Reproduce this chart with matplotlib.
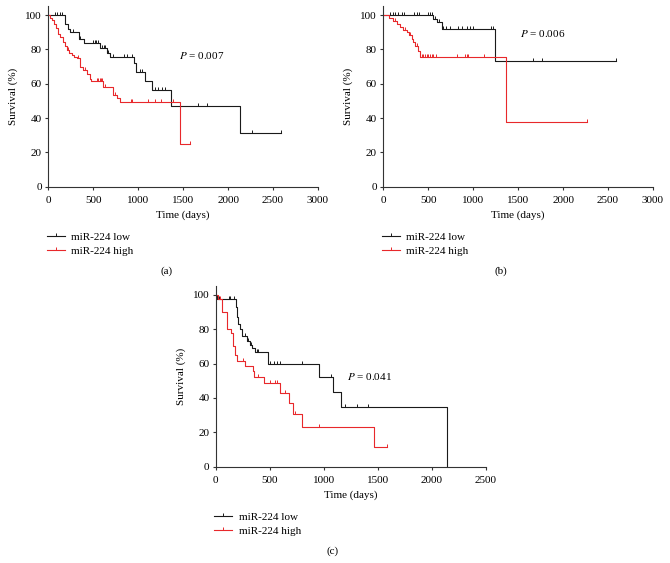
import numpy as np
import matplotlib
matplotlib.use("Agg")
import matplotlib.pyplot as plt

plt.rcParams['font.family'] = ['Liberation Serif', 'DejaVu Serif']
plt.rcParams['font.size'] = 8

# (a) overall
a_low_t = [185, 215, 240, 340, 400, 575, 650, 685, 955, 975, 1080, 1150, 1370, 2130]
a_low_s = [95, 92, 90, 86, 83.5, 81, 78, 75.5, 72, 66.6, 61.5, 56.5, 46.8, 31]
a_low_c = [75, 100, 130, 150, 277, 352, 500, 515, 530, 550, 600, 615, 630, 665, 720, 840, 875, 930,
           1020, 1045, 1185, 1220, 1265, 1300, 1660, 1767, 2270, 2590]
a_high_t = [18, 40, 63, 85, 110, 135, 167, 190, 204, 230, 260, 290, 315, 350, 390, 430, 463, 480,
            610, 720, 760, 800, 1463]
a_high_s = [98.5, 97, 95, 92.5, 89, 87, 84.5, 82, 79.6, 78, 76.7, 75.5, 74.8, 70, 68, 65.5, 63, 61.7,
            57.9, 53.4, 51.5, 49.5, 24.9]
a_high_c = [222, 330, 410, 430, 540, 555, 570, 585, 600, 630, 740, 920, 935, 1110, 1185, 1255, 1390, 1575]

# (b)
b_low_t = [555, 593, 648, 1248]
b_low_s = [97.5, 96, 91.6, 73.2]
b_low_c = [74, 104, 130, 167, 204, 230, 344, 370, 400, 493, 518, 537, 570, 600, 620, 667, 700, 740,
           833, 870, 926, 963, 1000, 1196, 1222, 1660, 1767, 2593]
b_high_t = [63, 111, 148, 185, 222, 260, 290, 315, 333, 352, 381, 407, 1370]
b_high_s = [98, 96.5, 95, 93, 91.5, 90, 88.5, 86, 84, 82, 79, 75.8, 37.5]
b_high_c = [130, 240, 300, 370, 426, 444, 463, 481, 500, 518, 537, 555, 590, 815, 907, 926, 944, 1122, 2270]

# (c)
c_low_t = [9, 190, 200, 210, 225, 240, 287, 318, 333, 364, 487, 955, 1082, 1156, 2136]
c_low_s = [97.5, 93, 87, 83, 80, 76, 73, 71, 69, 67, 60, 52.5, 43.5, 35, 0]
c_low_c = [34, 120, 136, 167, 271, 302, 324, 379, 395, 506, 537, 567, 598, 799, 1067, 1196, 1310, 1412]
c_high_t = [18, 62, 108, 142, 163, 179, 200, 271, 342, 354, 447, 595, 681, 712, 795, 1464]
c_high_s = [97.5, 90, 80, 78, 70, 65, 61.5, 58.6, 56, 52, 48.5, 43, 37, 30.5, 23.3, 11.6]
c_high_c = [40, 250, 395, 502, 549, 570, 641, 734, 955, 1581]

p_values = ['0.007', '0.006', '0.041']
labels = ['miR-224 low', 'miR-224 high']
low_col = '#1a1a1a'
high_col = '#e8282b'
tick_marker = [(0, 0), (0, 1)]


def surv_at(x, times, levels):
    s = 100.0
    for t, l in zip(times, levels):
        if x >= t:
            s = l
    return s


def km(ax, times, levels, cens, color, label):
    end = max(times[-1], cens[-1])
    xs = [0] + times + [end]
    ys = [100] + levels + [levels[-1]]
    ax.plot(xs, ys, drawstyle='steps-post', color=color, lw=0.8)
    cy = [surv_at(c, times, levels) for c in cens]
    ax.plot(cens, cy, ls='none', marker=tick_marker, ms=5, mew=0.7, color=color)
    # legend handle
    ax.plot([], [], color=color, lw=0.8, marker=tick_marker, ms=5, mew=0.7, label=label)


fig = plt.figure(figsize=(6.7, 5.63), dpi=100)
panels = [
    ([0.0721, 0.6684, 0.4025, 0.3202], 3000, (a_low_t, a_low_s, a_low_c), (a_high_t, a_high_s, a_high_c), (1456, 76.7), '(a)', 0.249),
    ([0.5721, 0.6684, 0.4025, 0.3202], 3000, (b_low_t, b_low_s, b_low_c), (b_high_t, b_high_s, b_high_c), (1519, 89.5), '(b)', 0.748),
    ([0.3219, 0.1711, 0.4035, 0.3202], 2500, (c_low_t, c_low_s, c_low_c), (c_high_t, c_high_s, c_high_c), (1212, 52.8), '(c)', 0.497),
]

for i, (rect, xmax, low, high, ppos, tag, tagx) in enumerate(panels):
    ax = fig.add_axes(rect)
    km(ax, *low, low_col, labels[0])
    km(ax, *high, high_col, labels[1])
    ax.set_xlim(0, xmax)
    ax.set_ylim(0, 105)
    ax.set_xticks(np.arange(0, xmax + 1, 500))
    ax.set_yticks(np.arange(0, 101, 20))
    for sp in ['top', 'right']:
        ax.spines[sp].set_visible(False)
    for sp in ['left', 'bottom']:
        ax.spines[sp].set_linewidth(0.8)
        ax.spines[sp].set_color('#333333')
    ax.tick_params(direction='out', length=2.5, width=0.8, pad=2, labelsize=8, color='#333333')
    ax.tick_params(axis='x', pad=4)
    ax.set_xlabel('Time (days)', fontsize=8, labelpad=4)
    ax.set_ylabel('Survival (%)', fontsize=8, labelpad=5)
    ax.text(ppos[0], ppos[1], r'$P$ = ' + p_values[i], fontsize=8, va='center',
            math_fontfamily='stix')
    ax.legend(loc='upper left', bbox_to_anchor=(-0.005, -0.25), frameon=False, borderaxespad=0,
              borderpad=0, handlelength=1.6, handletextpad=0.6, labelspacing=0.45, fontsize=8)
    ty = rect[1] - 0.15
    fig.text(tagx, ty, tag, ha='center', va='center', fontsize=8)

fig.savefig('out.png', dpi=100)
